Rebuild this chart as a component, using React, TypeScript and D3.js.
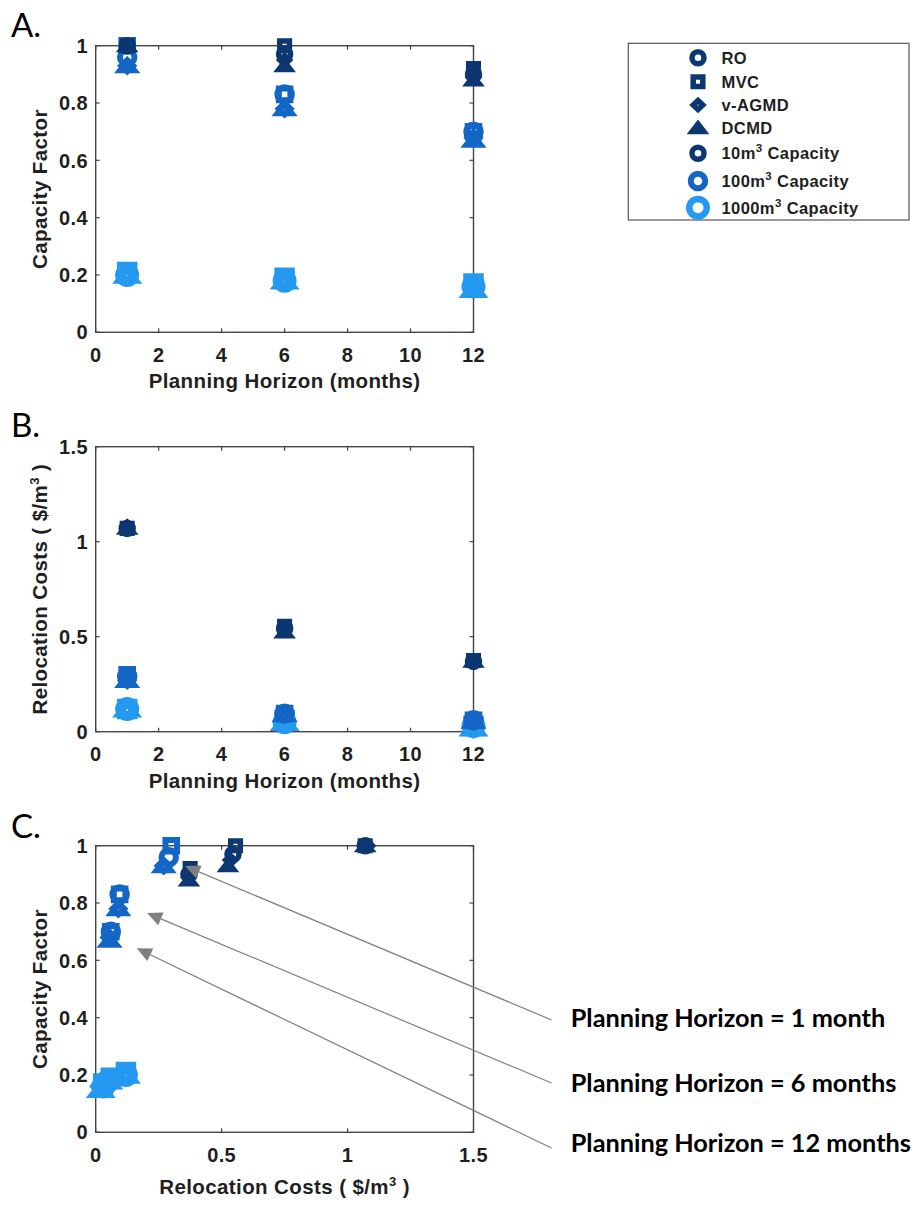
import React from "react";
import * as d3 from "d3";

// Technologies (marker shape) and plant capacities (marker colour / size)
const techNames = ["RO", "MVC", "v-AGMD", "DCMD"];
const techShapes = ["circle", "square", "diamond", "triangle"];
const capacityNames = ["10", "100", "1000"];
const capacityColors = ["#0c3770", "#1466c6", "#2598f0"];
const capacityMarkerSize = [12, 14.5, 17.5];
const capacityStroke = [5.5, 6, 6.5];

const horizonMonths = [1, 6, 12];

// Capacity factor: rows = planning horizon (1, 6, 12 months), columns = RO, MVC, v-AGMD, DCMD
const capacityFactor10 = [
  [1.0, 1.0, 1.0, 1.0],
  [0.97, 1.0, 0.95, 0.93],
  [0.9, 0.92, 0.89, 0.88],
];
const capacityFactor100 = [
  [0.96, 1.0, 0.93, 0.93],
  [0.83, 0.83, 0.78, 0.78],
  [0.7, 0.7, 0.68, 0.67],
];
const capacityFactor1000 = [
  [0.2, 0.21, 0.2, 0.2],
  [0.18, 0.19, 0.18, 0.18],
  [0.16, 0.17, 0.16, 0.15],
];

// Relocation costs ($/m3), same layout
const relocationCost10 = [
  [1.07, 1.07, 1.08, 1.07],
  [0.545, 0.555, 0.535, 0.525],
  [0.37, 0.375, 0.37, 0.37],
];
const relocationCost100 = [
  [0.29, 0.3, 0.27, 0.27],
  [0.095, 0.095, 0.09, 0.09],
  [0.06, 0.06, 0.055, 0.055],
];
const relocationCost1000 = [
  [0.12, 0.12, 0.12, 0.12],
  [0.05, 0.06, 0.05, 0.05],
  [0.03, 0.03, 0.02, 0.02],
];

const monthTicks = [0, 2, 4, 6, 8, 10, 12];
const factorTicks = [0, 0.2, 0.4, 0.6, 0.8, 1];
const costTicks = [0, 0.5, 1, 1.5];

// Annotation arrows in panel C, in that panel's data units
const horizonNotes = [
  { text: "Planning Horizon = 1 month", tip: [0.355, 0.929], tail: [1.81, 0.392], label: [1.886, 0.367] },
  { text: "Planning Horizon = 6 months", tip: [0.204, 0.765], tail: [1.81, 0.172], label: [1.886, 0.141] },
  { text: "Planning Horizon = 12 months", tip: [0.163, 0.642], tail: [1.81, -0.055], label: [1.886, -0.069] },
];

const capacityFactorSets = [capacityFactor10, capacityFactor100, capacityFactor1000];
const relocationCostSets = [relocationCost10, relocationCost100, relocationCost1000];

type Pt = { horizon: number; cf: number; cost: number; tech: number; cap: number };

// Largest capacity first so the smaller markers sit on top
const points: Pt[] = [];
[2, 1, 0].forEach((cap) => {
  horizonMonths.forEach((h, hi) => {
    techNames.forEach((_, ti) => {
      points.push({
        horizon: h,
        cf: capacityFactorSets[cap][hi][ti],
        cost: relocationCostSets[cap][hi][ti],
        tech: ti,
        cap,
      });
    });
  });
});

function markerPath(shape: string, s: number): string {
  const p = d3.path();
  if (shape === "circle") {
    p.arc(0, 0, s / 2, 0, Math.PI * 2);
    p.closePath();
  } else if (shape === "square") {
    const a = s * 0.4;
    p.rect(-a, -a, 2 * a, 2 * a);
  } else if (shape === "diamond") {
    const ax = s * 0.4;
    const ay = s * 0.38;
    p.moveTo(0, -ay);
    p.lineTo(ax, 0);
    p.lineTo(0, ay);
    p.lineTo(-ax, 0);
    p.closePath();
  } else {
    const b = s * 0.48;
    const hh = s * 0.31;
    p.moveTo(0, -hh);
    p.lineTo(b, hh);
    p.lineTo(-b, hh);
    p.closePath();
  }
  return p.toString();
}

const AXIS_FONT = "'Liberation Sans', Arial, Helvetica, sans-serif";
const NOTE_FONT = "Lato, 'Open Sans', sans-serif";
const TEXT_COLOR = "#1f1f1f";
const BOX_COLOR = "#444";

const LEFT = 95.7;
const RIGHT = 473.5;

type PanelDef = {
  letter: string;
  letterY: number;
  top: number;
  bottom: number;
  xDomain: [number, number];
  yDomain: [number, number];
  xTicks: number[];
  yTicks: number[];
  xLabel: "horizon" | "cost";
  yLabel: "factor" | "cost";
  xValue: (d: Pt) => number;
  yValue: (d: Pt) => number;
  xLabelOffset: number;
};

const panels: PanelDef[] = [
  {
    letter: "A.", letterY: 36.7, top: 45.7, bottom: 332.3,
    xDomain: [0, 12], yDomain: [0, 1], xTicks: monthTicks, yTicks: factorTicks,
    xLabel: "horizon", yLabel: "factor", xValue: (d) => d.horizon, yValue: (d) => d.cf, xLabelOffset: 56,
  },
  {
    letter: "B.", letterY: 436.7, top: 446.7, bottom: 731.7,
    xDomain: [0, 12], yDomain: [0, 1.5], xTicks: monthTicks, yTicks: costTicks,
    xLabel: "horizon", yLabel: "cost", xValue: (d) => d.horizon, yValue: (d) => d.cost, xLabelOffset: 56,
  },
  {
    letter: "C.", letterY: 838, top: 845.7, bottom: 1132.3,
    xDomain: [0, 1.5], yDomain: [0, 1], xTicks: costTicks, yTicks: factorTicks,
    xLabel: "cost", yLabel: "factor", xValue: (d) => d.cost, yValue: (d) => d.cf, xLabelOffset: 62,
  },
];

const tickFmt = (v: number) => d3.format("~g")(v);

function CostLabel() {
  return (
    <>
      {"Relocation Costs ( $/m"}
      <tspan dy={-8} fontSize="13">3</tspan>
      <tspan dy={8}>{" )"}</tspan>
    </>
  );
}

function Panel({ def }: { def: PanelDef }) {
  const x = d3.scaleLinear().domain(def.xDomain).range([LEFT, RIGHT]);
  const y = d3.scaleLinear().domain(def.yDomain).range([def.bottom, def.top]);
  const tickLen = 4;
  const fs = 20;
  const midY = (def.top + def.bottom) / 2;
  const midX = (LEFT + RIGHT) / 2;
  return (
    <g>
      <text x={11} y={def.letterY} fontFamily={NOTE_FONT} fontSize={33} fill="#000">
        {def.letter}
      </text>
      <rect x={LEFT} y={def.top} width={RIGHT - LEFT} height={def.bottom - def.top} fill="#fff" stroke={BOX_COLOR} strokeWidth={1.4} />
      {def.xTicks.map((t) => (
        <g key={"xt" + t}>
          <line x1={x(t)} x2={x(t)} y1={def.bottom} y2={def.bottom - tickLen} stroke={BOX_COLOR} strokeWidth={1.2} />
          <line x1={x(t)} x2={x(t)} y1={def.top} y2={def.top + tickLen} stroke={BOX_COLOR} strokeWidth={1.2} />
          <text x={x(t)} y={def.bottom + 29.5} textAnchor="middle" fontFamily={AXIS_FONT} fontWeight="bold" fontSize={fs} fill={TEXT_COLOR} style={{ letterSpacing: "0.4px" }}>
            {tickFmt(t)}
          </text>
        </g>
      ))}
      {def.yTicks.map((t) => (
        <g key={"yt" + t}>
          <line x1={LEFT} x2={LEFT + tickLen} y1={y(t)} y2={y(t)} stroke={BOX_COLOR} strokeWidth={1.2} />
          <line x1={RIGHT} x2={RIGHT - tickLen} y1={y(t)} y2={y(t)} stroke={BOX_COLOR} strokeWidth={1.2} />
          <text x={88} y={y(t) + 0.358 * fs} textAnchor="end" fontFamily={AXIS_FONT} fontWeight="bold" fontSize={fs} fill={TEXT_COLOR} style={{ letterSpacing: "0.4px" }}>
            {tickFmt(t)}
          </text>
        </g>
      ))}
      <text x={midX} y={def.bottom + def.xLabelOffset} textAnchor="middle" fontFamily={AXIS_FONT} fontWeight="bold" fontSize={20.5} fill={TEXT_COLOR} style={{ letterSpacing: "0.4px" }}>
        {def.xLabel === "horizon" ? "Planning Horizon (months)" : <CostLabel />}
      </text>
      <text transform={`translate(47,${midY}) rotate(-90)`} textAnchor="middle" fontFamily={AXIS_FONT} fontWeight="bold" fontSize={20.5} fill={TEXT_COLOR} style={{ letterSpacing: "0.4px" }}>
        {def.yLabel === "factor" ? "Capacity Factor" : <CostLabel />}
      </text>
      {points.map((d, i) => (
        <path
          key={i}
          d={markerPath(techShapes[d.tech], capacityMarkerSize[d.cap])}
          transform={`translate(${x(def.xValue(d))},${y(def.yValue(d))})`}
          fill="none"
          stroke={capacityColors[d.cap]}
          strokeWidth={capacityStroke[d.cap]}
          strokeLinejoin="miter"
        />
      ))}
    </g>
  );
}

function Legend() {
  const left = 628.3;
  const top = 43.3;
  const right = 909;
  const bottom = 220;
  const markerX = 698;
  const textX = 721.5;
  const rowsY = [57.7, 81.7, 105, 127.7, 153.3, 181, 207.7];
  const fs = 16.5;
  const entries = [
    ...techNames.map((name, i) => ({ name, shape: techShapes[i], cap: 0, sup: false })),
    ...capacityNames.map((name, i) => ({ name, shape: "circle", cap: i, sup: true })),
  ];
  return (
    <g>
      <rect x={left} y={top} width={right - left} height={bottom - top} fill="#fff" stroke="#555" strokeWidth={1.2} />
      {entries.map((e, i) => (
        <g key={i}>
          <path
            d={markerPath(e.shape, capacityMarkerSize[e.cap])}
            transform={`translate(${markerX},${rowsY[i]})`}
            fill="none"
            stroke={capacityColors[e.cap]}
            strokeWidth={capacityStroke[e.cap]}
            strokeLinejoin="miter"
          />
          <text x={textX} y={rowsY[i] + 0.358 * fs} fontFamily={AXIS_FONT} fontWeight="bold" fontSize={fs} fill={TEXT_COLOR} style={{ letterSpacing: "0.4px" }}>
            {e.sup ? (
              <>
                {e.name + "m"}
                <tspan dy={-7} fontSize="11.5">3</tspan>
                <tspan dy={7}>{" Capacity"}</tspan>
              </>
            ) : (
              e.name
            )}
          </text>
        </g>
      ))}
    </g>
  );
}

function HorizonNotes() {
  const def = panels[2];
  const x = d3.scaleLinear().domain(def.xDomain).range([LEFT, RIGHT]);
  const y = d3.scaleLinear().domain(def.yDomain).range([def.bottom, def.top]);
  const headLen = 15;
  const headHalf = 7;
  return (
    <g>
      {horizonNotes.map((n, i) => {
        const tx = x(n.tip[0]);
        const ty = y(n.tip[1]);
        const sx = x(n.tail[0]);
        const sy = y(n.tail[1]);
        const ang = Math.atan2(ty - sy, tx - sx);
        const bx = tx - headLen * Math.cos(ang);
        const by = ty - headLen * Math.sin(ang);
        const px = -Math.sin(ang) * headHalf;
        const py = Math.cos(ang) * headHalf;
        return (
          <g key={i}>
            <line x1={sx} y1={sy} x2={bx} y2={by} stroke="#7f7f7f" strokeWidth={1.2} />
            <path d={`M${tx},${ty}L${bx + px},${by + py}L${bx - px},${by - py}Z`} fill="#7f7f7f" />
            <text x={x(n.label[0])} y={y(n.label[1])} fontFamily={NOTE_FONT} fontWeight="bold" fontSize={25.3} fill="#000">
              {n.text}
            </text>
          </g>
        );
      })}
    </g>
  );
}

export default function App() {
  return (
    <svg
      width={917}
      height={1205}
      viewBox="0 0 917 1205"
      style={{ position: "absolute", left: 0, top: 0, background: "#fff" }}
    >
      <rect x={0} y={0} width={917} height={1205} fill="#fff" />
      {panels.map((p) => (
        <Panel key={p.letter} def={p} />
      ))}
      <Legend />
      <HorizonNotes />
    </svg>
  );
}
